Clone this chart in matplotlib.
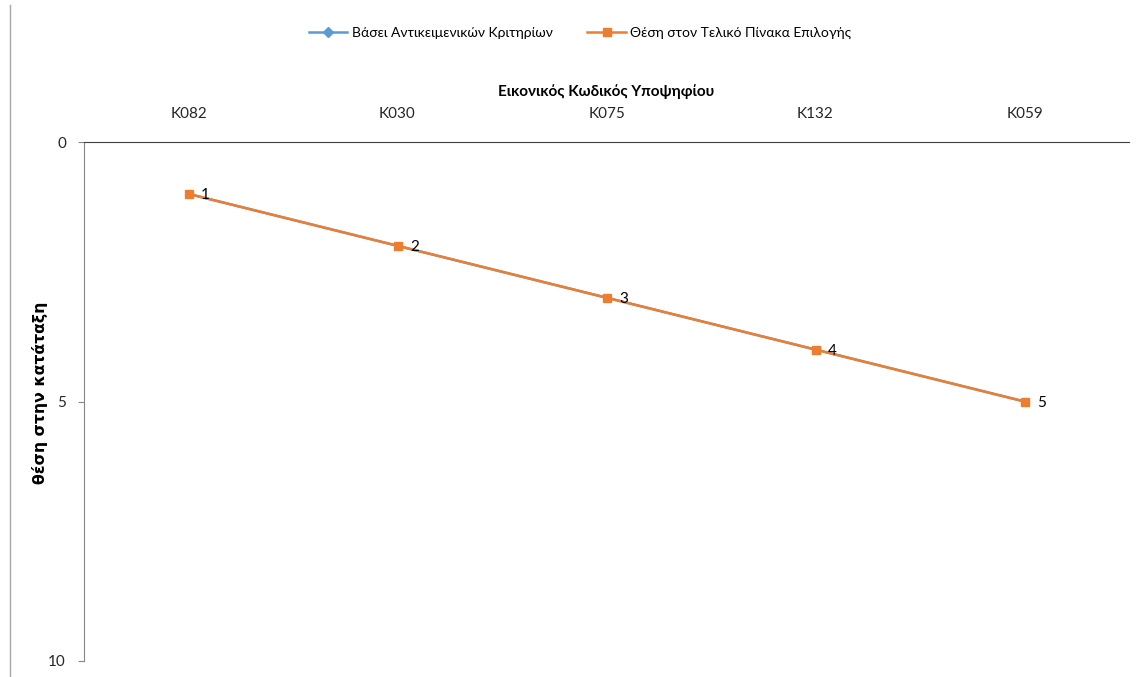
import matplotlib.pyplot as plt
from matplotlib.lines import Line2D

plt.rcParams['font.family'] = ['Lato', 'DejaVu Sans']

candidates = ["K082", "K030", "K075", "K132", "K059"]
objective_rank = [1, 2, 3, 4, 5]
final_rank = [1, 2, 3, 4, 5]

blue = "#5B9BD5"
orange = "#ED7D31"
fontsize = 11

fig = plt.figure(figsize=(11.4, 6.77), dpi=100)
ax = fig.add_axes([84 / 1140, 1 - 661 / 677, 1045 / 1140, 519 / 677])

x = list(range(len(candidates)))
ax.plot(x, objective_rank, color=blue, lw=1.8, marker='D', markersize=4,
        label="Βάσει Αντικειμενικών Κριτηρίων")
ax.plot(x, final_rank, color=orange, lw=1.8, marker='s', markersize=5.5,
        label="Θέση στον Τελικό Πίνακα Επιλογής")
for xi, yi in zip(x, final_rank):
    ax.annotate(str(yi), (xi, yi), xytext=(9, -1), textcoords='offset points',
                ha='left', va='center', fontsize=fontsize, color='black')

ax.set_xlim(-0.5, len(candidates) - 0.5)
ax.set_ylim(10, 0)
ax.set_yticks([0, 5, 10])
ax.set_xticks(x)
ax.set_xticklabels(candidates, fontsize=fontsize, color='#262626')
ax.xaxis.tick_top()
ax.xaxis.set_label_position('top')
ax.tick_params(axis='x', length=0, pad=15)
ax.tick_params(axis='y', length=4, color='#868686', labelsize=fontsize,
               labelcolor='#262626', pad=9)
ax.set_xlabel("Εικονικός Κωδικός Υποψηφίου", fontsize=fontsize, fontweight='bold',
              labelpad=8)
ax.set_ylabel("θέση στην κατάταξη", fontsize=11.3, fontweight='bold',
              family=['DejaVu Sans'])
ax.yaxis.set_label_coords(-0.034, 0.517)

for s in ['right', 'bottom']:
    ax.spines[s].set_visible(False)
ax.spines['top'].set_color('#404040')
ax.spines['left'].set_color('#868686')

handles = [Line2D([], [], color=blue, lw=1.8, marker='D', markersize=5),
           Line2D([], [], color=orange, lw=1.8, marker='s', markersize=5.5)]
fig.legend(handles, ["Βάσει Αντικειμενικών Κριτηρίων", "Θέση στον Τελικό Πίνακα Επιλογής"],
           loc='center', bbox_to_anchor=(580 / 1140, 1 - 33 / 677), ncol=2,
           frameon=False, fontsize=10, handlelength=2.8, columnspacing=2.5,
           handletextpad=0.3)

# chart frame edge on the left
fig.add_artist(Line2D([10 / 1140, 10 / 1140], [0, 1 - 5 / 677], color='#a6a6a6', lw=1))

fig.savefig('out.png', dpi=100)
